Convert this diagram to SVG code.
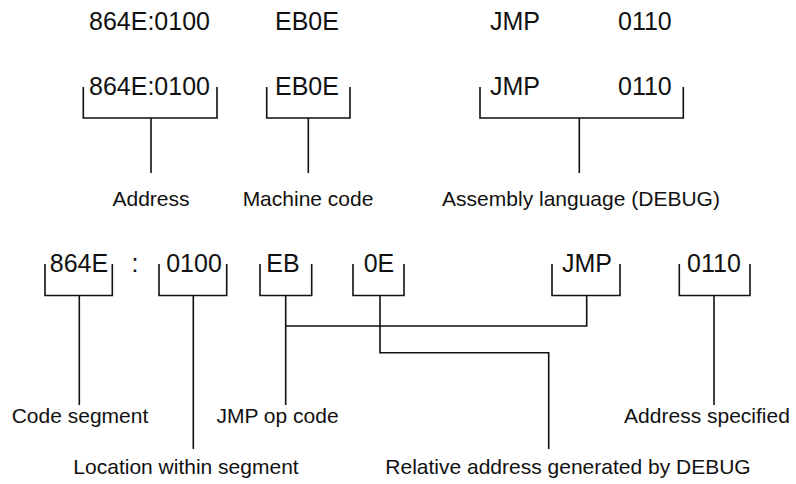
<svg xmlns="http://www.w3.org/2000/svg" width="796" height="484" viewBox="0 0 796 484">
<style>
.code{font-family:"Liberation Sans",Arial,sans-serif;font-size:25px;fill:#111}
.mid{text-anchor:middle}
.lbl{font-family:"Liberation Sans",Arial,sans-serif;font-size:21px;fill:#111;text-anchor:middle}
.br{fill:none;stroke:#111;stroke-width:1.6}
.cn{fill:none;stroke:#111;stroke-width:1.6}
</style>
<rect width="796" height="484" fill="#fff"/>
<g id="top-row">
<text class="code" x="89" y="30">864E:0100</text>
<text class="code" x="275" y="30">EB0E</text>
<text class="code" x="490" y="30">JMP</text>
<text class="code" x="618" y="30">0110</text>
</g>
<g id="node-address-code">
<text class="code" x="89" y="95">864E:0100</text>
<path class="br" d="M83.3 87V118H217V87"/>
</g>
<g id="node-machine-code">
<text class="code" x="275" y="95">EB0E</text>
<path class="br" d="M266.7 87V118H350V87"/>
</g>
<g id="node-assembly">
<text class="code" x="490" y="95">JMP</text>
<text class="code" x="618" y="95">0110</text>
<path class="br" d="M480 87V118H683.3V87"/>
</g>
<g id="label-address"><text class="lbl" x="151" y="206">Address</text></g>
<g id="label-machine"><text class="lbl" x="308" y="206">Machine code</text></g>
<g id="label-assembly"><text class="lbl" x="581" y="206">Assembly language (DEBUG)</text></g>
<g id="node-segment">
<text class="code mid" x="79" y="271.5">864E</text>
<path class="br" d="M45 264V295.5H112.3V264"/>
</g>
<g id="colon"><text class="code mid" x="135" y="271.5">:</text></g>
<g id="node-offset">
<text class="code mid" x="194" y="271.5">0100</text>
<path class="br" d="M159 264V295.5H226.7V264"/>
</g>
<g id="node-eb">
<text class="code mid" x="283" y="271.5">EB</text>
<path class="br" d="M260 264V295.5H311.7V264"/>
</g>
<g id="node-0e">
<text class="code mid" x="379" y="271.5">0E</text>
<path class="br" d="M353 264V295.5H404V264"/>
</g>
<g id="node-jmp">
<text class="code mid" x="587" y="271.5">JMP</text>
<path class="br" d="M552 264V295.5H620V264"/>
</g>
<g id="node-0110">
<text class="code mid" x="714" y="271.5">0110</text>
<path class="br" d="M679.3 264V295.5H750V264"/>
</g>
<g id="label-code-segment"><text class="lbl" x="80" y="423">Code segment</text></g>
<g id="label-jmp-op"><text class="lbl" x="277.5" y="423">JMP op code</text></g>
<g id="label-addr-spec"><text class="lbl" x="707" y="423">Address specified</text></g>
<g id="label-location"><text class="lbl" x="186" y="474">Location within segment</text></g>
<g id="label-relative"><text class="lbl" x="568" y="474">Relative address generated by DEBUG</text></g>
<g id="connectors">
<path class="cn" d="M151 118V173"/>
<path class="cn" d="M308.3 118V173"/>
<path class="cn" d="M579.3 118V173"/>
<path class="cn" d="M79.3 295.5V405"/>
<path class="cn" d="M193.3 295.5V449"/>
<path class="cn" d="M285.7 295.5V405"/>
<path class="cn" d="M586.7 295.5V326H285.7"/>
<path class="cn" d="M380 295.5V352.7H548.7V449"/>
<path class="cn" d="M714 295.5V405"/>
</g>
</svg>
